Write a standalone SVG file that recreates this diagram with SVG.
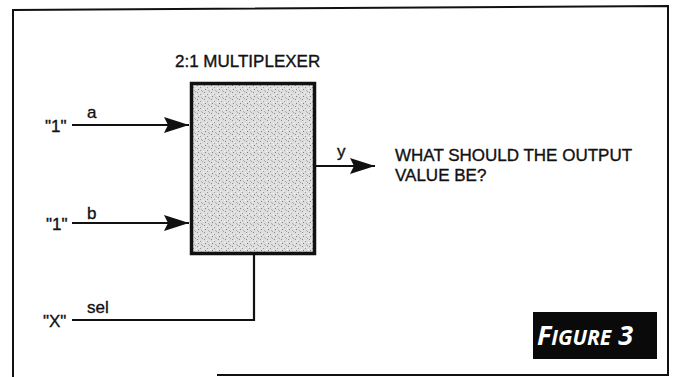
<svg xmlns="http://www.w3.org/2000/svg" width="673" height="377" viewBox="0 0 673 377">
  <style>
    .t { font-family: "Liberation Sans", Arial, sans-serif; fill: #111; stroke: #111; stroke-width: 0.35; }
    .cap { font-size: 17px; }
    .lbl { font-size: 17px; }
    .wire { stroke: #111; stroke-width: 2.2; fill: none; }
    .fig { font-family: "Open Sans", "DejaVu Sans", sans-serif; font-weight: bold; font-style: italic; fill: #fff; }
  </style>
  <defs>
    <marker id="arr" markerUnits="userSpaceOnUse" markerWidth="26" markerHeight="18" refX="25" refY="8" orient="auto">
      <path d="M0,0 L25,8 L0,16 L4,8 Z" fill="#111"/>
    </marker>
    <pattern id="stip" width="7" height="7" patternUnits="userSpaceOnUse">
      <rect width="7" height="7" fill="#dedede"/>
      <rect x="1" y="1" width="1" height="1" fill="#8a8a8a"/>
      <rect x="4" y="3" width="1" height="1" fill="#9a9a9a"/>
      <rect x="2" y="5" width="1" height="1" fill="#7e7e7e"/>
      <rect x="6" y="0" width="1" height="1" fill="#a5a5a5"/>
      <rect x="5" y="6" width="1" height="1" fill="#b0b0b0"/>
      <rect x="0" y="4" width="1" height="1" fill="#f6f6f6"/>
      <rect x="3" y="2" width="1" height="1" fill="#f2f2f2"/>
    </pattern>
  </defs>

  <rect width="673" height="377" fill="#fff"/>

  <g id="frame">
    <path d="M13,377 V10 L668,6 V375 H217" fill="none" stroke="#111" stroke-width="2"/>
  </g>

  <g id="mux">
    <rect x="191.5" y="83.5" width="123" height="170" fill="url(#stip)" stroke="#111" stroke-width="3.5"/>
    <text class="t cap" x="175" y="67">2:1 MULTIPLEXER</text>
  </g>

  <g id="connectors">
    <path class="wire" d="M72,125 H189" marker-end="url(#arr)"/>
    <path class="wire" d="M72,223 H189" marker-end="url(#arr)"/>
    <path class="wire" d="M316,166 H375" marker-end="url(#arr)"/>
    <path class="wire" d="M72,320 H254 V255"/>
  </g>

  <g id="input-a">
    <text class="t cap" x="45" y="132">"1"</text>
    <text class="t lbl" x="87" y="118">a</text>
  </g>
  <g id="input-b">
    <text class="t cap" x="46" y="230">"1"</text>
    <text class="t lbl" x="87" y="219">b</text>
  </g>
  <g id="input-sel">
    <text class="t cap" x="43" y="327">"X"</text>
    <text class="t lbl" x="87" y="313">sel</text>
  </g>
  <g id="output-y">
    <text class="t lbl" x="337" y="157">y</text>
    <text class="t cap" x="395" y="161">WHAT SHOULD THE OUTPUT</text>
    <text class="t cap" x="395" y="181">VALUE BE?</text>
  </g>

  <g id="figure-label">
    <rect x="533" y="312" width="124" height="47" fill="#0a0a0a"/>
    <text class="fig" x="537" y="345"><tspan font-size="27">F</tspan><tspan font-size="21">IGURE</tspan><tspan font-size="27"> 3</tspan></text>
  </g>
</svg>
